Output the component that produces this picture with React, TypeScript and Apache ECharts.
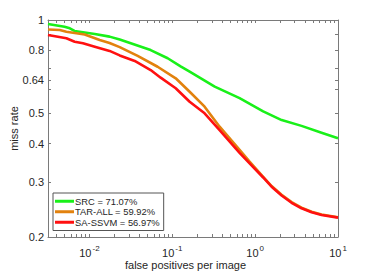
import React, { useEffect, useRef } from "react";
import * as echarts from "echarts";

// false positives per image (x) and miss rate (y)
const SRC_FPPI = [0.00316, 0.005, 0.0058, 0.0066, 0.0116, 0.0175, 0.0232, 0.0548, 0.088, 0.126, 0.162, 0.325, 0.649, 1.25, 2.09, 3.63, 6.33, 10];
const SRC_MR = [0.971, 0.951, 0.94, 0.922, 0.901, 0.884, 0.865, 0.8, 0.753, 0.709, 0.682, 0.61, 0.56, 0.508, 0.476, 0.456, 0.4335, 0.416];

const TAR_FPPI = [0.00316, 0.00438, 0.00527, 0.00877, 0.0133, 0.0175, 0.0232, 0.0382, 0.0665, 0.11, 0.162, 0.2455, 0.3725, 0.649, 0.857, 1.25, 1.579, 2.085, 2.753, 3.63, 4.8, 6.33, 10];
const TAR_MR = [0.932, 0.9286, 0.917, 0.898, 0.862, 0.843, 0.818, 0.766, 0.707, 0.649, 0.5875, 0.5257, 0.4533, 0.3814, 0.3497, 0.3125, 0.2918, 0.2735, 0.259, 0.2485, 0.2412, 0.2362, 0.2315];

const SA_FPPI = [0.00316, 0.00527, 0.00664, 0.00836, 0.0116, 0.0175, 0.0232, 0.0352, 0.0548, 0.0724, 0.11, 0.162, 0.2455, 0.3725, 0.649, 0.857, 1.25, 1.579, 2.085, 2.753, 3.63, 4.8, 6.33, 10];
const SA_MR = [0.895, 0.873, 0.851, 0.841, 0.82, 0.795, 0.769, 0.738, 0.69, 0.652, 0.6026, 0.5455, 0.5006, 0.442, 0.373, 0.3455, 0.311, 0.2904, 0.2722, 0.2578, 0.2474, 0.2402, 0.2355, 0.2309];

const SERIES_NAMES = ["SRC = 71.07%", "TAR-ALL = 59.92%", "SA-SSVM = 56.97%"];
const SERIES_COLORS = ["#19f019", "#e2820e", "#ff1010"];

const X_MIN = 0.00316227766;
const X_MAX = 10;
const Y_MIN = 0.2;
const Y_MAX = 1;
const X_TICK_LABELS = [0.01, 0.1, 1, 10];
const Y_TICK_LABELS = [0.2, 0.3, 0.4, 0.5, 0.64, 0.8, 1];
const Y_TICK_MARKS = [0.2, 0.3, 0.4, 0.5, 0.6, 0.64, 0.7, 0.8, 0.9, 1];

const FONT = "'Liberation Sans', Arial, Helvetica, sans-serif";
const AXIS_COLOR = "#7a7a7a";
const TEXT_COLOR = "#262626";

const lg = (v: number) => Math.log10(v);

function xTickMarks(): number[] {
  const out: number[] = [];
  for (let d = -3; d <= 1; d++) {
    for (let k = 1; k <= 9; k++) {
      const v = k * Math.pow(10, d);
      if (v >= X_MIN * 0.999 && v <= X_MAX * 1.001) out.push(lg(v));
    }
  }
  return out;
}

export default function App() {
  const ref = useRef<HTMLDivElement>(null);
  useEffect(() => {
    if (!ref.current) return;
    const chart = echarts.init(ref.current, undefined, { renderer: "svg" });
    const xt = xTickMarks();
    const yt = Y_TICK_MARKS.map(lg);
    const mk = (fx: number[], my: number[]) => fx.map((x, i) => [lg(x), lg(my[i])]);
    const baseX = {
      type: "value" as const,
      min: lg(X_MIN),
      max: lg(X_MAX),
      axisLine: { onZero: false, lineStyle: { color: AXIS_COLOR, width: 1 } },
      axisTick: { inside: true, length: 3, customValues: xt, lineStyle: { color: AXIS_COLOR } },
      splitLine: { show: false },
    };
    const baseY = {
      type: "value" as const,
      min: lg(Y_MIN),
      max: lg(Y_MAX),
      axisLine: { show: true, onZero: false, lineStyle: { color: AXIS_COLOR, width: 1 } },
      axisTick: { show: true, inside: true, length: 3, customValues: yt, lineStyle: { color: AXIS_COLOR } },
      splitLine: { show: false },
    };
    const data = [mk(SRC_FPPI, SRC_MR), mk(TAR_FPPI, TAR_MR), mk(SA_FPPI, SA_MR)];
    chart.setOption({
      animation: false,
      backgroundColor: "#ffffff",
      grid: { left: 48, top: 20, right: 36, bottom: 36, containLabel: false, outerBoundsMode: "none" },
      xAxis: [
        {
          ...baseX,
          position: "bottom",
          name: "false positives per image",
          nameLocation: "middle",
          nameGap: 22,
          nameMoveOverlap: false,
          nameTextStyle: { fontFamily: FONT, fontSize: 11, color: TEXT_COLOR, padding: [0, 15, 0, 0] },
          axisLabel: {
            customValues: X_TICK_LABELS.map(lg),
            margin: 7,
            formatter: (v: number) => `{b|10}{s|${Math.round(v)}}`,
            rich: {
              b: { fontFamily: FONT, fontSize: 11, color: TEXT_COLOR, lineHeight: 14, verticalAlign: "bottom" },
              s: { fontFamily: FONT, fontSize: 8, color: TEXT_COLOR, lineHeight: 14, verticalAlign: "top", padding: [0, 0, 0, 1] },
            },
          },
        },
        { ...baseX, position: "top", axisLabel: { show: false } },
      ],
      yAxis: [
        {
          ...baseY,
          position: "left",
          name: "miss rate",
          nameLocation: "middle",
          nameGap: 29,
          nameMoveOverlap: false,
          nameTextStyle: { fontFamily: FONT, fontSize: 11, color: TEXT_COLOR },
          axisLabel: {
            customValues: Y_TICK_LABELS.map(lg),
            margin: 4,
            fontFamily: FONT,
            fontSize: 11,
            color: TEXT_COLOR,
            formatter: (v: number) => String(Math.round(Math.pow(10, v) * 100) / 100),
          },
        },
        { ...baseY, position: "right", axisLabel: { show: false } },
      ],
      legend: {
        orient: "vertical",
        left: 53,
        top: 193,
        padding: [3, 4, 3, 2],
        itemGap: 0,
        itemWidth: 19,
        itemHeight: 3,
        icon: "rect",
        borderColor: "#555",
        borderWidth: 1,
        backgroundColor: "#fff",
        data: SERIES_NAMES,
        textStyle: { fontFamily: FONT, fontSize: 9.4, color: TEXT_COLOR, lineHeight: 10.5, padding: [0, 0, 0, -4] },
      },
      series: data.map((d, i) => ({
        name: SERIES_NAMES[i],
        type: "line",
        data: d,
        showSymbol: false,
        symbol: "none",
        clip: true,
        smooth: false,
        color: SERIES_COLORS[i],
        lineStyle: { width: 2.6, color: SERIES_COLORS[i], join: "round" },
      })),
    });
    return () => chart.dispose();
  }, []);
  return <div ref={ref} style={{ position: "fixed", left: 0, top: 0, width: 374, height: 273 }} />;
}
